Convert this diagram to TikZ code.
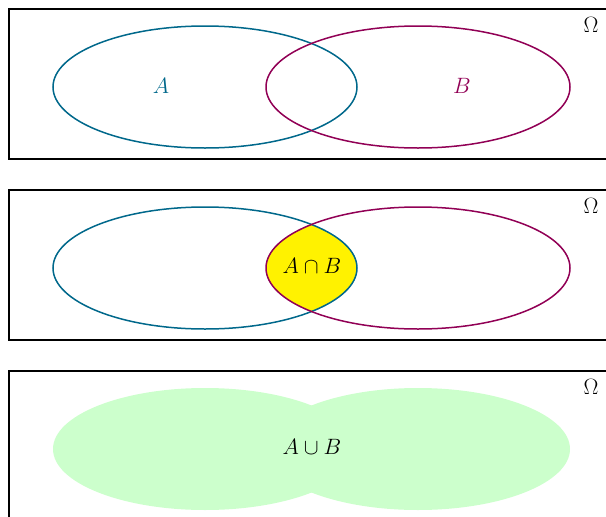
\documentclass[tikz,border=0pt]{standalone}
\usepackage{graphicx}
\definecolor{setA}{RGB}{0,104,139}
\definecolor{setB}{RGB}{145,0,85}
\definecolor{capfill}{RGB}{255,242,0}
\definecolor{cupfill}{RGB}{204,255,204}
\newcommand{\labtxt}[1]{\scalebox{1.07}{$#1$}}
\tikzset{
  panel/.style={draw=black,line width=1.5pt},
  ellA/.style={draw=setA,line width=1.5pt},
  ellB/.style={draw=setB,line width=1.5pt},
  lab/.style={font=\huge,inner sep=0pt},
}
\begin{document}
\begin{tikzpicture}[x=1pt,y=-1pt]
\useasboundingbox (0,0) rectangle (606,517);
\clip (0,0) rectangle (606,517);
% panel 1
\draw[panel] (9,9) rectangle (640,159);
\draw[ellA] (205,87) ellipse [x radius=152pt, y radius=61pt];
\draw[ellB] (418,87) ellipse [x radius=152pt, y radius=61pt];
\node[lab,text=setA] (la) at (161,86) {\labtxt{A}};
\node[lab,text=setB] (lb) at (462,86) {\labtxt{B}};
\node[lab] (om1) at (591,25) {\labtxt{\Omega}};
% panel 2
\draw[panel] (9,190) rectangle (640,340);
\begin{scope}
  \clip (205,268) ellipse [x radius=152pt, y radius=61pt];
  \fill[capfill] (418,268) ellipse [x radius=152pt, y radius=61pt];
\end{scope}
\draw[ellA] (205,268) ellipse [x radius=152pt, y radius=61pt];
\draw[ellB] (418,268) ellipse [x radius=152pt, y radius=61pt];
\node[lab] (lcap) at (312,266) {\labtxt{A\cap B}};
\node[lab] (om2) at (591,206) {\labtxt{\Omega}};
% panel 3
\draw[panel] (9,371) rectangle (640,560);
\fill[cupfill] (205,449) ellipse [x radius=152pt, y radius=61pt];
\fill[cupfill] (418,449) ellipse [x radius=152pt, y radius=61pt];
\node[lab] (lcup) at (312,447) {\labtxt{A\cup B}};
\node[lab] (om3) at (591,387) {\labtxt{\Omega}};
\end{tikzpicture}
\end{document}
